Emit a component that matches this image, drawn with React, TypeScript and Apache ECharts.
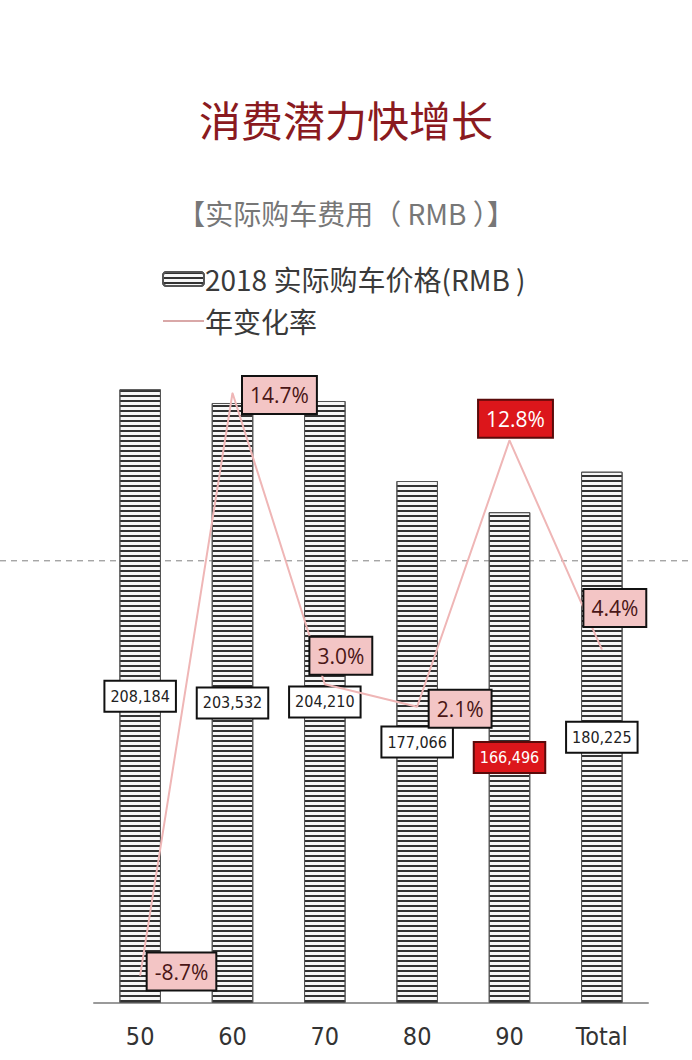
import { useEffect, useRef } from 'react';
import * as echarts from 'echarts';

const categories = ['50', '60', '70', '80', '90', 'Total'];
const prices = [208184, 203532, 204210, 177066, 166496, 180225];
const rates = [-8.7, 14.7, 3.0, 2.1, 12.8, 4.4];
const referenceValue = 150000;
const highlightIndex = 4;

const titleText = '消费潜力快增长';
const subtitleText = '【实际购车费用（ RMB ）】';
const barName = '2018 实际购车价格(RMB )';
const lineName = '年变化率';

// where each rate box sits relative to its point
const ratePlacement: { position: string; distance: number; offset: number[] }[] = [
  { position: 'right', distance: 7, offset: [0, -4] },
  { position: 'right', distance: 10, offset: [0, 2] },
  { position: 'top', distance: 10, offset: [16, 0] },
  { position: 'right', distance: 12, offset: [0, 2] },
  { position: 'top', distance: 3, offset: [6, 0] },
  { position: 'top', distance: 23, offset: [13, 0] },
];

const CJK = '"Noto Sans CJK SC", "Noto Sans", sans-serif';
const NARROW = '"Liberation Sans Narrow", "DejaVu Sans Condensed", sans-serif';
const RED = '#dc161b';

export default function App() {
  const ref = useRef<HTMLDivElement>(null);

  useEffect(() => {
    if (!ref.current) return;
    const chart = echarts.init(ref.current, null, { renderer: 'svg' });

    const barData = prices.map((v, i) =>
      i === highlightIndex
        ? {
            value: v,
            label: { backgroundColor: RED, color: '#fff', borderColor: '#5a0a0a' },
          }
        : v
    );

    const lineData = rates.map((v, i) => {
      const p = ratePlacement[i];
      const item: any = {
        value: v,
        label: { position: p.position, distance: p.distance, offset: p.offset },
      };
      if (i === highlightIndex) {
        item.label.backgroundColor = RED;
        item.label.color = '#fff';
        item.label.borderColor = '#5a0a0a';
      }
      return item;
    });

    const option: any = {
      animation: false,
      backgroundColor: '#fff',
      title: [
        {
          text: titleText,
          left: 'center',
          top: 92,
          textStyle: { fontFamily: CJK, fontSize: 42, fontWeight: 'normal', color: '#8a1a20' },
        },
        {
          text: subtitleText,
          left: 'center',
          top: 194,
          textStyle: { fontFamily: CJK, fontSize: 28, fontWeight: 'normal', color: '#777' },
        },
      ],
      legend: {
        orient: 'vertical',
        left: 157,
        top: 260,
        itemWidth: 41,
        itemHeight: 14,
        itemGap: 14,
        textStyle: { fontFamily: CJK, fontSize: 28, color: '#3a3a3a', lineHeight: 28, padding: [0, 0, 0, -4] },
        data: [
          { name: barName },
          { name: lineName, icon: 'path://M0 0H40V2H0Z', itemStyle: { color: '#d9a8a8' } },
        ],
      },
      grid: { left: 94, right: 44, top: 266, bottom: 57 },
      xAxis: {
        type: 'category',
        data: categories,
        axisLine: { lineStyle: { color: '#9a9a9a', width: 2 } },
        axisTick: { show: false },
        axisLabel: { fontFamily: NARROW, fontSize: 25, color: '#333', margin: 21 },
      },
      yAxis: [
        { type: 'value', min: 0, max: 250000, show: false, splitLine: { show: false } },
        { type: 'value', min: -9.8, max: 19.8, show: false, splitLine: { show: false } },
      ],
      series: [
        {
          name: barName,
          type: 'bar',
          data: barData,
          barWidth: '45%',
          itemStyle: {
            color: '#f7f7f7',
            borderColor: '#555',
            borderWidth: 1,
            decal: {
              symbol: 'rect',
              symbolSize: 1,
              dashArrayX: [1, 0],
              dashArrayY: [2, 2.5],
              rotation: 0,
              color: '#333',
            },
          },
          label: {
            show: true,
            position: 'inside',
            formatter: (p: any) => p.value.toLocaleString('en-US'),
            fontFamily: NARROW,
            fontSize: 16,
            color: '#222',
            backgroundColor: '#fff',
            borderColor: '#111',
            borderWidth: 2,
            padding: [7, 5, 6, 5],
          },
        },
        {
          name: lineName,
          type: 'line',
          yAxisIndex: 1,
          data: lineData,
          symbol: 'circle',
          symbolSize: 1,
          lineStyle: { color: '#efb6b6', width: 2 },
          itemStyle: { color: '#efb6b6' },
          z: 3,
          label: {
            show: true,
            formatter: (p: any) => p.value.toFixed(1) + '%',
            fontFamily: '"Open Sans", "Noto Sans", sans-serif',
            fontSize: 21,
            color: '#4a1616',
            backgroundColor: '#f3c5c5',
            borderColor: '#111',
            borderWidth: 2,
            padding: [8, 7, 7, 7],
          },
        },
      ],
    };

    chart.setOption(option);

    const y = chart.convertToPixel({ yAxisIndex: 0 }, referenceValue) as number;
    chart.setOption({
      graphic: [
        {
          type: 'line',
          z: 1,
          silent: true,
          shape: { x1: 0, y1: y, x2: 692, y2: y },
          style: { stroke: '#808080', lineWidth: 1, lineDash: [6, 5] },
        },
      ],
    });

    return () => chart.dispose();
  }, []);

  return (
    <div
      ref={ref}
      style={{ position: 'absolute', left: 0, top: 0, width: 692, height: 1060 }}
    />
  );
}
